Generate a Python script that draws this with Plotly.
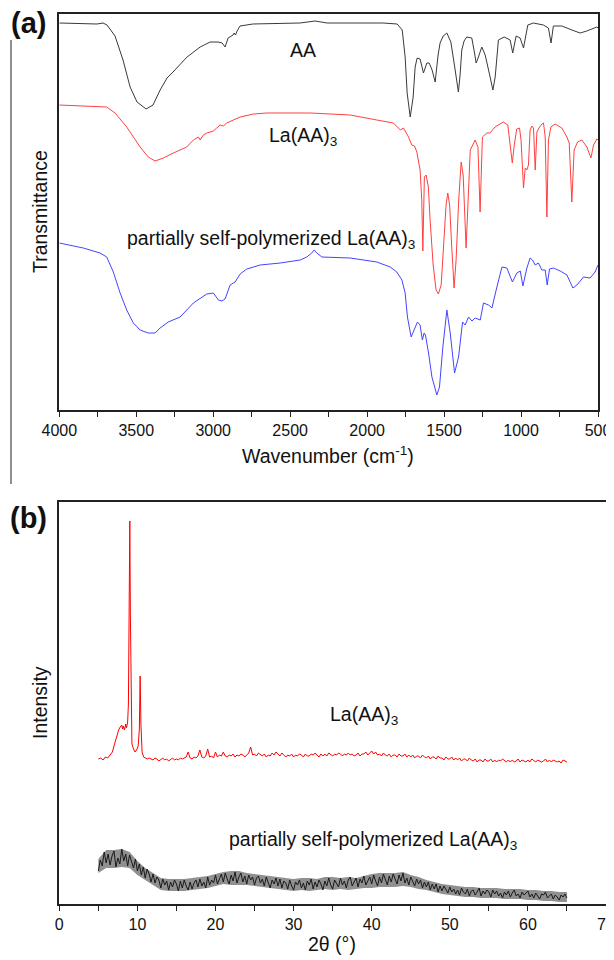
import plotly.graph_objects as go

# ---------------- FTIR data (a) ----------------
AA_wn = [4000, 3755, 3716, 3690, 3638, 3586, 3540, 3495, 3436, 3391, 3345, 3300, 3261, 3170, 3085, 3020, 2968, 2942, 2923, 2903,
         2871, 2864, 2855, 2845, 2826, 2742, 2436, 2338, 2260, 1896, 1805, 1772, 1753, 1740, 1720, 1701, 1688, 1675, 1656, 1634,
         1612, 1597, 1578, 1558, 1539, 1526, 1506, 1482, 1456, 1441, 1428, 1407, 1396, 1385, 1370, 1353, 1320, 1302, 1292, 1279,
         1255, 1233, 1214, 1201, 1183, 1168, 1147, 1110, 1071, 1054, 1032, 1006, 984, 956, 920, 855, 822, 805, 790, 735,
         670, 616, 573, 507, 500]
AA_T = [387, 386, 387, 385, 374, 350, 323, 308, 301, 305, 320, 332, 338, 353, 363, 368, 368, 367, 363, 372,
        375, 377, 375, 379, 384, 386, 387, 389, 387, 387, 386, 380, 353, 317, 293, 313, 343, 352, 351, 337,
        347, 347, 340, 328, 355, 367, 374, 377, 368, 355, 340, 318, 335, 360, 369, 373, 372, 357, 347, 352,
        363, 355, 343, 333, 320, 333, 370, 373, 370, 357, 374, 372, 362, 385, 387, 385, 382, 367, 384, 384,
        380, 377, 379, 383, 382]

La_wn = [4000, 3692, 3638, 3562, 3475, 3422, 3378, 3324, 3259, 3172, 3129, 3096, 3085, 3064, 3042, 3020, 2999, 2977, 2955, 2934,
         2912, 2869, 2825, 2739, 2652, 2370, 2110, 1937, 1850, 1829, 1785, 1764, 1731, 1710, 1692, 1677, 1656, 1645, 1638, 1628,
         1617, 1602, 1591, 1571, 1552, 1537, 1519, 1500, 1487, 1476, 1464, 1451, 1435, 1422, 1405, 1389, 1376, 1357, 1344, 1330,
         1298, 1280, 1266, 1251, 1222, 1202, 1169, 1115, 1086, 1072, 1057, 1044, 1028, 1010, 1000, 984, 973, 962, 952, 941,
         930, 919, 908, 897, 880, 864, 854, 843, 832, 822, 806, 778, 735, 702, 687, 670, 655, 633, 605, 572,
         546, 529, 507, 500]
La_T = [305, 303, 297, 283, 263, 253, 249, 252, 257, 263, 270, 273, 270, 275, 277, 278, 279, 282, 285, 284,
        287, 290, 293, 296, 297, 297, 295, 290, 288, 287, 280, 282, 273, 265, 264, 258, 240, 210, 159, 233,
        235, 223, 190, 145, 120, 116, 125, 170, 205, 217, 205, 165, 122, 150, 210, 248, 235, 162, 210, 260,
        270, 263, 198, 273, 277, 277, 283, 288, 285, 267, 247, 265, 281, 282, 270, 222, 242, 240, 245, 280,
        284, 282, 240, 278, 283, 286, 287, 273, 193, 270, 283, 286, 282, 273, 267, 208, 260, 268, 270, 263,
        252, 265, 271, 270]

PS_wn = [4000, 3844, 3735, 3692, 3649, 3605, 3562, 3519, 3475, 3422, 3378, 3345, 3292, 3215, 3129, 3042, 2999, 2966, 2944, 2923,
         2890, 2858, 2825, 2782, 2695, 2565, 2435, 2392, 2360, 2344, 2327, 2294, 2110, 1937, 1850, 1807, 1774, 1753, 1738, 1714,
         1695, 1673, 1656, 1641, 1630, 1621, 1601, 1579, 1547, 1530, 1508, 1482, 1460, 1432, 1406, 1380, 1363, 1341, 1319, 1298,
         1265, 1244, 1211, 1189, 1157, 1124, 1092, 1056, 1027, 1005, 988, 962, 941, 926, 908, 887, 865, 843, 830, 815,
         789, 745, 702, 663, 637, 594, 552, 519, 500]
PS_T = [167, 162, 157, 153, 138, 117, 100, 87, 80, 77, 77, 82, 88, 93, 107, 116, 117, 110, 109, 111,
        125, 128, 136, 141, 145, 147, 150, 153, 157, 160, 157, 153, 152, 148, 143, 138, 130, 117, 93, 73,
        80, 88, 85, 70, 77, 75, 57, 33, 15, 23, 63, 100, 77, 37, 53, 88, 85, 93, 89, 92,
        90, 107, 105, 102, 123, 143, 142, 128, 137, 139, 124, 142, 152, 150, 145, 147, 140, 140, 125, 141,
        142, 139, 135, 122, 125, 133, 132, 138, 145]

# ---------------- XRD data (b) ----------------
# instrument scan grid, 0.25 deg step from 5 to 65 deg
scan_theta = [round(5 + 0.25 * i, 2) for i in range(241)]

La_xrd_peak_theta = [5.0, 5.3, 5.6, 5.9, 6.2, 6.5, 6.8, 7.0, 7.2, 7.4, 7.6, 7.8, 8.0, 8.1, 8.2, 8.35, 8.5, 8.6, 8.75,
                     8.85, 8.95, 9.03, 9.1, 9.2, 9.3, 9.5, 9.7, 9.9, 10.1, 10.25, 10.35, 10.45, 10.6, 10.8, 11.0, 11.25, 11.5]
La_xrd_peak_int = [145, 146, 144, 147, 146, 149, 152, 158, 163, 170, 174, 177, 179, 175, 178, 174, 180, 176, 182,
                   200, 300, 383, 290, 180, 160, 155, 152, 154, 158, 175, 228, 180, 152, 147, 146, 145, 146]
La_xrd_tail_int = [145,
    144, 146, 145, 143, 145, 146, 144, 145, 143, 145, 146, 144, 145, 144, 146, 145,
    146, 147, 152, 146, 145, 147, 146, 148, 154, 147, 146, 148, 155, 147, 148, 146,
    152, 147, 149, 148, 152, 148, 147, 149, 148, 150, 147, 149, 148, 150, 149, 147,
    149, 151, 157, 149, 150, 148, 151, 149, 148, 150, 147, 149, 148, 151, 149, 152,
    150, 148, 151, 149, 147, 149, 148, 150, 147, 149, 148, 150, 149, 147, 150, 148,
    148, 150, 149, 151, 149, 147, 150, 148, 150, 148, 151, 149, 148, 150, 149, 151,
    150, 148, 150, 149, 151, 149, 150, 148, 149, 151, 148, 150, 150, 152, 149, 151,
    153, 150, 152, 149, 150, 148, 151, 149, 148, 150, 147, 149, 149, 147, 150, 148,
    148, 150, 147, 149, 147, 149, 146, 148, 148, 146, 149, 147, 146, 148, 145, 147,
    147, 145, 148, 146, 146, 144, 147, 145, 145, 147, 144, 146, 144, 146, 143, 145,
    145, 143, 146, 144, 143, 145, 142, 144, 144, 142, 145, 143, 143, 145, 142, 144,
    142, 144, 143, 145, 143, 142, 144, 142, 144, 142, 143, 145, 142, 144, 143, 142,
    144, 142, 145, 143, 142, 144, 143, 142, 143, 145, 142, 144, 142, 144, 143, 142,
    143, 141, 144, 143,
    142]

PS_xrd_int = [33, 44, 38, 52, 41, 50, 39, 48, 53, 37, 46, 40, 55, 43, 50, 38, 49, 41, 36, 45,
    33, 40, 29, 37, 26, 35, 30, 22, 30, 21, 27, 24, 16, 25, 19, 23, 14, 22, 17, 24,
    20, 13, 23, 16, 24, 18, 14, 22, 15, 21, 24, 17, 25, 18, 22, 16, 27, 19, 24, 21,
    29, 20, 26, 30, 22, 31, 25, 20, 29, 23, 32, 21, 27, 31, 22, 28, 20, 29, 24, 27,
    19, 26, 28, 21, 25, 18, 27, 22, 16, 24, 20, 26, 18, 25, 16, 23, 21, 15, 24, 18,
    14, 22, 19, 24, 16, 21, 14, 23, 19, 25, 15, 22, 17, 24, 20, 14, 23, 18, 26, 19,
    15, 24, 21, 17, 26, 19, 23, 16, 24, 27, 18, 22, 26, 17, 25, 21, 28, 19, 24, 27,
    20, 29, 23, 18, 27, 21, 30, 24, 19, 28, 22, 30, 25, 20, 29, 23, 31, 21, 26, 19,
    27, 22, 18, 25, 20, 24, 16, 22, 17, 22, 14, 20, 15, 20, 12, 18, 13, 18, 15, 11,
    17, 12, 15, 10, 14, 9, 16, 12, 10, 15, 8, 13, 14, 9, 12, 16, 8, 13, 10, 14,
    12, 7, 14, 10, 13, 8, 11, 6, 12, 9, 13, 7, 11, 14, 8, 10, 6, 12, 9, 11,
    13, 7, 10, 6, 11, 8, 5, 10, 9, 12, 6, 8, 10, 5, 9, 7, 4, 9, 7, 10,
    6]

# noise-band envelope of the partially self-polymerized pattern, 1 deg steps 5..65
env_theta = list(range(5, 66))
PS_xrd_upper = [45, 54, 54, 55, 52, 43, 36, 31, 26, 25, 25, 25, 26, 27, 28, 30, 32, 33, 33, 31,
                30, 29, 28, 27, 26, 25, 26, 26, 25, 27, 27, 26, 27, 26, 28, 30, 31, 31, 31, 32,
                29, 27, 24, 22, 20, 19, 18, 17, 17, 16, 16, 16, 15, 15, 15, 14, 14, 13, 13, 12, 12]
PS_xrd_lower = [31, 36, 36, 37, 36, 29, 24, 19, 14, 13, 13, 13, 14, 15, 16, 18, 20, 19, 19, 19,
                18, 17, 16, 15, 14, 13, 14, 13, 14, 15, 14, 15, 14, 15, 16, 16, 17, 17, 17, 18,
                17, 15, 14, 12, 10, 9, 8, 7, 7, 6, 6, 6, 5, 5, 5, 4, 4, 3, 3, 2, 2]

La_xrd_theta = La_xrd_peak_theta + scan_theta[27:]
La_xrd_int = La_xrd_peak_int + La_xrd_tail_int

FONT = "Liberation Sans"
# the page body adds an 8 px margin, so the figure is 8 px smaller and all positions shift by 8 px
OFF = 8
W, H = 614 - OFF, 960 - OFF
LBL = 19.5

fig = go.Figure()
fig.add_trace(go.Scatter(x=AA_wn, y=AA_T, mode="lines", line=dict(color="#3a3a3a", width=1), xaxis="x", yaxis="y"))
fig.add_trace(go.Scatter(x=La_wn, y=La_T, mode="lines", line=dict(color="#ff4040", width=1), xaxis="x", yaxis="y"))
fig.add_trace(go.Scatter(x=PS_wn, y=PS_T, mode="lines", line=dict(color="#4444ff", width=1), xaxis="x", yaxis="y"))
fig.add_trace(go.Scatter(x=La_xrd_theta, y=La_xrd_int, mode="lines", line=dict(color="#ff0000", width=1), xaxis="x2", yaxis="y2"))
fig.add_trace(go.Scatter(x=env_theta, y=PS_xrd_lower, mode="lines", line=dict(color="rgba(0,0,0,0)", width=0),
                         xaxis="x2", yaxis="y2", hoverinfo="skip"))
fig.add_trace(go.Scatter(x=env_theta, y=PS_xrd_upper, mode="lines", line=dict(color="rgba(0,0,0,0)", width=0),
                         fill="tonexty", fillcolor="rgba(70,70,70,0.6)", xaxis="x2", yaxis="y2", hoverinfo="skip"))
fig.add_trace(go.Scatter(x=scan_theta, y=PS_xrd_int, mode="lines", line=dict(color="#1a1a1a", width=1), xaxis="x2", yaxis="y2"))

def px(x):
    return (x - OFF) / W

def py(y):
    return 1 - (y - OFF) / H

ax_common = dict(showline=True, linecolor="#222222", linewidth=1.5, mirror=True, showgrid=False, zeroline=False,
                 ticks="outside", ticklen=5, tickwidth=1, tickcolor="#222222", automargin=False,
                 ticklabeloverflow="allow",
                 tickfont=dict(family=FONT, size=16, color="#111111"))
yax_common = dict(showline=True, linecolor="#222222", linewidth=1.5, mirror=True, showgrid=False, zeroline=False,
                  showticklabels=False, ticks="", automargin=False)

ftir_ticks = list(range(500, 4001, 250))
ftir_text = [str(v) if v % 500 == 0 else "" for v in ftir_ticks]
xrd_ticks = list(range(0, 71, 5))
xrd_text = [str(v) if v % 10 == 0 else "" for v in xrd_ticks]

fig.update_layout(
    width=W, height=H, margin=dict(l=0, r=0, t=0, b=0, autoexpand=False),
    paper_bgcolor="white", plot_bgcolor="white", showlegend=False,
    xaxis=dict(domain=[px(59.3), px(598)], range=[4000, 500], anchor="y",
               tickmode="array", tickvals=ftir_ticks, ticktext=ftir_text, **ax_common),
    yaxis=dict(domain=[py(410), py(14)], range=[0, 396], anchor="x", **yax_common),
    xaxis2=dict(domain=[px(59.3), px(606)], range=[0, 70], anchor="y2",
                tickmode="array", tickvals=xrd_ticks, ticktext=xrd_text, **ax_common),
    yaxis2=dict(domain=[py(904), py(502)], range=[0, 402], anchor="x2", **yax_common),
)

def note(text, x, y, size=LBL, xanchor="left", angle=0, bold=False):
    fig.add_annotation(text=("<b>%s</b>" % text) if bold else text, x=px(x), y=py(y), xref="paper", yref="paper",
                       xanchor=xanchor, yanchor="middle", showarrow=False, textangle=angle,
                       font=dict(family=FONT, size=size, color="#111111"))

note("(a)", 9, 23, size=29, bold=True)
note("(b)", 8, 518, size=29, bold=True)
note("AA", 288, 50)
note("La(AA)<sub>3</sub>", 267, 137)
note("partially self-polymerized La(AA)<sub>3</sub>", 125, 239)
note("Transmittance", 40, 212, angle=-90, xanchor="center")
note("Wavenumber (cm<sup>-1</sup>)", 328, 455, xanchor="center")
note("La(AA)<sub>3</sub>", 328, 715)
note("partially self-polymerized La(AA)<sub>3</sub>", 227, 840)
note("Intensity", 40, 703, angle=-90, xanchor="center")
note("2θ (°)", 332, 944, xanchor="center")

fig.add_shape(type="line", xref="paper", yref="paper", x0=px(11), x1=px(11), y0=py(40), y1=py(484),
              line=dict(color="#222222", width=1))

fig.write_html("out.html")
